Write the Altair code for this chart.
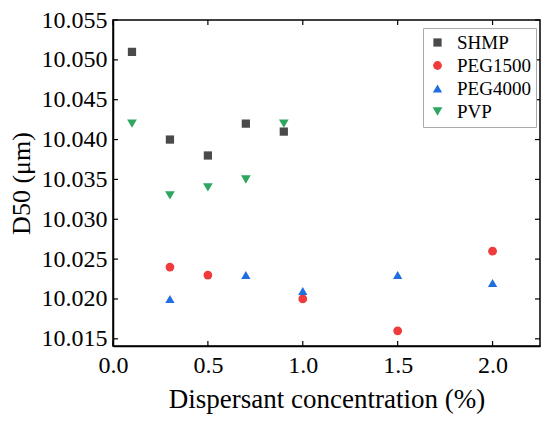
import altair as alt
import pandas as pd

series_names = ["SHMP", "PEG1500", "PEG4000", "PVP"]
series_colors = ["#4a4a4a", "#ef3b3b", "#1f6fe0", "#2fa660"]
series_shapes = ["square", "circle", "triangle-up", "triangle-down"]
series_sizes = [68, 95, 160, 160]

shmp_x = [0.1, 0.3, 0.5, 0.7, 0.9]
shmp_y = [10.051, 10.040, 10.038, 10.042, 10.041]
peg1500_x = [0.3, 0.5, 1.0, 1.5, 2.0]
peg1500_y = [10.024, 10.023, 10.020, 10.016, 10.026]
peg4000_x = [0.3, 0.7, 1.0, 1.5, 2.0]
peg4000_y = [10.020, 10.023, 10.021, 10.023, 10.022]
pvp_x = [0.1, 0.3, 0.5, 0.7, 0.9]
pvp_y = [10.042, 10.033, 10.034, 10.035, 10.042]

x_ticks = [0.0, 0.5, 1.0, 1.5, 2.0]
y_ticks = [10.015, 10.020, 10.025, 10.030, 10.035, 10.040, 10.045, 10.050, 10.055]

x_domain = [0.0, 2.25]
y_domain = [10.0141, 10.055]

rows = []
for name, xs, ys in [("SHMP", shmp_x, shmp_y), ("PEG1500", peg1500_x, peg1500_y),
                     ("PEG4000", peg4000_x, peg4000_y), ("PVP", pvp_x, pvp_y)]:
    for a, b in zip(xs, ys):
        rows.append({"series": name, "x": a, "y": b})
df = pd.DataFrame(rows)

W, H = 427, 326
FONT = "Liberation Serif"

xs = alt.Scale(domain=x_domain, nice=False, zero=False)
ys = alt.Scale(domain=y_domain, nice=False, zero=False)

points = alt.Chart(df).mark_point(filled=True, opacity=1).encode(
    x=alt.X("x:Q", scale=xs, title="Dispersant concentration (%)",
            axis=alt.Axis(values=x_ticks, format=".1f", tickSize=0, labelPadding=7,
                          titlePadding=9, grid=False, labelFlush=False,
                          titleFontSize=27)),
    y=alt.Y("y:Q", scale=ys, title="D50 (μm)",
            axis=alt.Axis(values=y_ticks, format=".3f", tickSize=0, labelPadding=6,
                          titlePadding=7, grid=False, labelFlush=False,
                          titleFontSize=26)),
    color=alt.Color("series:N", scale=alt.Scale(domain=series_names, range=series_colors),
                    legend=alt.Legend(title=None, orient="none", legendX=310, legendY=8)),
    shape=alt.Shape("series:N", scale=alt.Scale(domain=series_names, range=series_shapes)),
    size=alt.Size("series:N", scale=alt.Scale(domain=series_names, range=series_sizes)),
)

xt = pd.DataFrame({"v": x_ticks})
yt = pd.DataFrame({"v": y_ticks})

bottom_ticks = alt.Chart(xt).mark_rule(color="black", strokeWidth=1.2).encode(
    x=alt.X("v:Q", scale=xs), y=alt.value(H), y2=alt.value(H - 5))
top_ticks = alt.Chart(xt).mark_rule(color="black", strokeWidth=1.2).encode(
    x=alt.X("v:Q", scale=xs), y=alt.value(0), y2=alt.value(5))
left_ticks = alt.Chart(yt).mark_rule(color="black", strokeWidth=1.2).encode(
    y=alt.Y("v:Q", scale=ys), x=alt.value(0), x2=alt.value(5))
right_ticks = alt.Chart(yt).mark_rule(color="black", strokeWidth=1.2).encode(
    y=alt.Y("v:Q", scale=ys), x=alt.value(W), x2=alt.value(W - 5))

chart = alt.layer(points, bottom_ticks, top_ticks, left_ticks, right_ticks).properties(
    width=W, height=H,
    autosize=alt.AutoSizeParams(type="none"),
    padding={"left": 105, "top": 12, "right": 2, "bottom": 73},
).configure_view(stroke="black", strokeWidth=1.5).configure_axis(
    domainColor="black", domainWidth=1.5, labelFont=FONT, titleFont=FONT,
    labelFontSize=24, labelColor="black", titleColor="black",
    titleFontWeight="normal",
).configure_legend(
    labelFont=FONT, labelFontSize=19, labelColor="black", strokeColor="#aaaaaa",
    padding=5, rowPadding=3, symbolOpacity=1, fillColor="white",
    labelOffset=10,
)

chart.save("out.html", embed_options={"renderer": "svg", "actions": False})
